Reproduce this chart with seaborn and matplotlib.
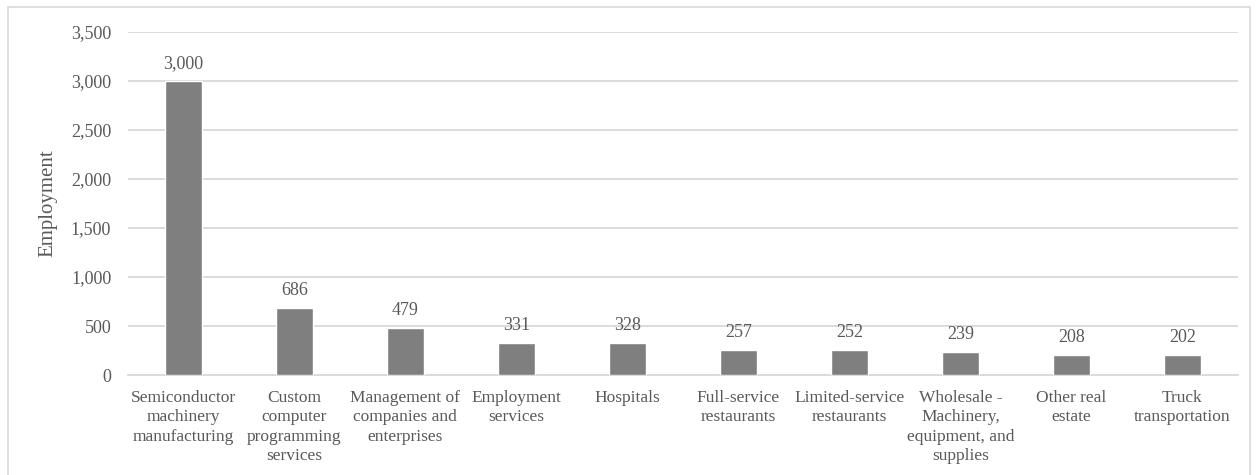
import matplotlib
matplotlib.use("Agg")
import matplotlib.pyplot as plt
from matplotlib.patches import Rectangle
from matplotlib.ticker import FuncFormatter, MultipleLocator
import seaborn as sns
import pandas as pd

industries = [
    "Semiconductor\nmachinery\nmanufacturing",
    "Custom\ncomputer\nprogramming\nservices",
    "Management of\ncompanies and\nenterprises",
    "Employment\nservices",
    "Hospitals",
    "Full-service\nrestaurants",
    "Limited-service\nrestaurants",
    "Wholesale -\nMachinery,\nequipment, and\nsupplies",
    "Other real\nestate",
    "Truck\ntransportation",
]
employment = [3000, 686, 479, 331, 328, 257, 252, 239, 208, 202]

df = pd.DataFrame({"industry": industries, "employment": employment})

sns.set_theme(style="white")
plt.rcParams["font.family"] = ["Liberation Serif", "DejaVu Serif"]

text_color = "#595959"
grid_color = "#d9d9d9"
bar_color = "#7f7f7f"

fig = plt.figure(figsize=(12.58, 4.75), dpi=100)
ax = fig.add_axes([0.1017, 0.2105, 0.8823, 0.7221])

sns.barplot(data=df, x="industry", y="employment", color=bar_color,
            saturation=1, width=0.33, ax=ax, zorder=3)

ax.set_ylim(0, 3500)
ax.set_xlim(-0.5, len(industries) - 0.5)
ax.yaxis.set_major_locator(MultipleLocator(500))
ax.yaxis.set_major_formatter(FuncFormatter(lambda v, p: f"{int(v):,}"))
ax.grid(axis="y", color=grid_color, linewidth=1.3, zorder=0)
ax.set_axisbelow(True)

for side in ["top", "right", "left"]:
    ax.spines[side].set_visible(False)
ax.spines["bottom"].set_color(grid_color)
ax.spines["bottom"].set_linewidth(1.3)

ax.tick_params(axis="both", length=0, colors=text_color)
ax.tick_params(axis="y", pad=12, labelsize=13)
ax.tick_params(axis="x", pad=11, labelsize=12.5)
for lbl in ax.get_xticklabels():
    lbl.set_linespacing(1.26)

ax.set_xlabel("")
ax.set_ylabel("Employment", fontsize=15, color=text_color)
ax.yaxis.set_label_coords(-0.064, 0.5)

for i, v in enumerate(employment):
    ax.annotate(f"{v:,}", (i, v), xytext=(0, 6.5), textcoords="offset points",
                ha="center", va="bottom", fontsize=13, color=text_color)

fig.patches.append(Rectangle((8 / 1258, -0.01), 1242 / 1258, 1 - 7 / 475 + 0.01,
                             transform=fig.transFigure, fill=False,
                             edgecolor=grid_color, linewidth=1.2))

fig.savefig("out.png", dpi=100, facecolor="white")
